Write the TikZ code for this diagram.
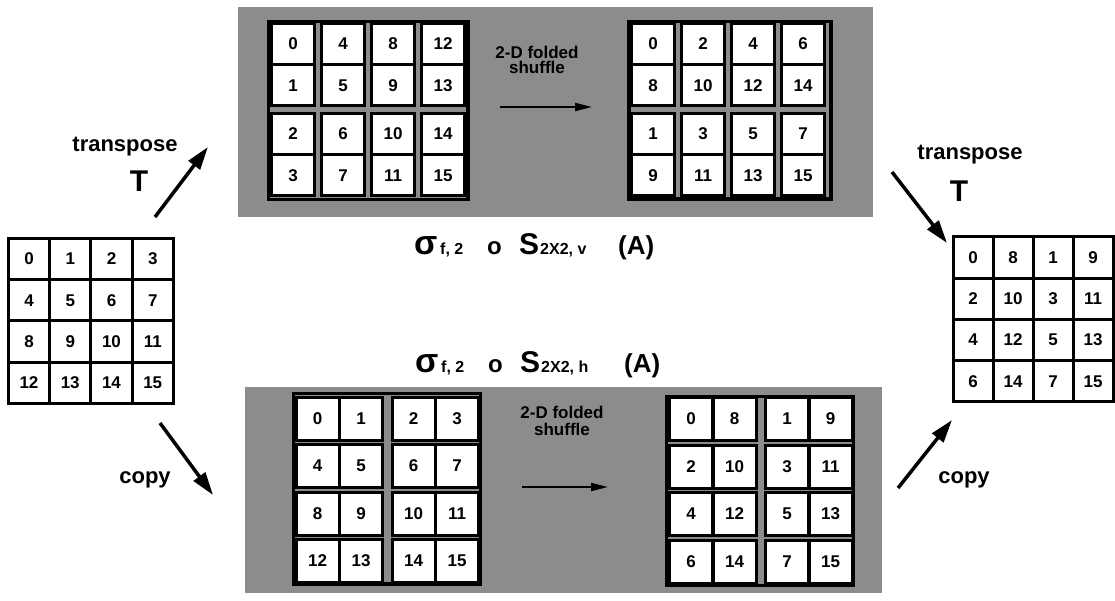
\documentclass[tikz,border=0pt]{standalone}
\usepackage{fontspec}
\setmainfont{Liberation Sans}
\usetikzlibrary{arrows.meta}
\newcommand{\cellfont}{\fontsize{17}{17}\selectfont\bfseries}
\newcommand{\lblfont}{\fontsize{22}{22}\selectfont\bfseries}
\newcommand{\bigTfont}{\fontsize{30}{30}\selectfont\bfseries}
\tikzset{
  panel/.style={fill=black!45},
  frame/.style={draw=black, line width=3.5pt, fill=black!45},
  cell/.style={draw=black, line width=3pt, fill=white, inner sep=0pt,
    minimum width=43pt, minimum height=41pt, font=\cellfont},
  plaincell/.style={cell, minimum width=41.25pt, minimum height=41.25pt},
  bigarrow/.style={line width=3.5pt, -{Triangle[length=23pt,width=14pt]}},
  shufarrow/.style={line width=2pt, -{Triangle[length=17pt,width=8pt]}},
  lbl/.style={font=\lblfont, anchor=base, inner sep=0pt},
  shuftext/.style={font=\fontsize{17}{15}\selectfont\bfseries, align=center, anchor=base, inner sep=0pt},
  formula/.style={anchor=base west, inner sep=0pt, font=\bfseries},
}
\begin{document}
\begin{tikzpicture}[x=1pt,y=-1pt]
  \useasboundingbox (0,0) rectangle (1115,601);
  % gray panels
  \fill[panel] (238,7) rectangle (873,217);
  \fill[panel] (245,387) rectangle (882,593);
  \draw[frame] (268.5,21.5) rectangle (468,199.5);
  \draw[frame] (629,21.5) rectangle (831,199);
  \draw[frame] (293.5,393.5) rectangle (480.5,584);
  \draw[frame] (666.5,396.5) rectangle (853.5,585.5);

  % input matrix A
  \foreach \v [count=\k from 0] in {0,...,15} {
    \pgfmathtruncatemacro\c{mod(\k,4)}
    \pgfmathtruncatemacro\r{\k/4}
    \node[plaincell] (in-\k) at ({29+41.25*\c},{259+41.25*\r}) {\v};
  }
  % upper path: vertical 2x2 split, then shuffle
  \foreach \v [count=\k from 0] in {0,4,8,12,1,5,9,13,2,6,10,14,3,7,11,15} {
    \pgfmathtruncatemacro\c{mod(\k,4)}
    \pgfmathtruncatemacro\r{\k/4}
    \node[cell] (tl-\k) at ({293+50*\c},{44+41.5*\r+7*(\r>1)}) {\v};
  }
  \foreach \v [count=\k from 0] in {0,2,4,6,8,10,12,14,1,3,5,7,9,11,13,15} {
    \pgfmathtruncatemacro\c{mod(\k,4)}
    \pgfmathtruncatemacro\r{\k/4}
    \node[cell] (tr-\k) at ({653+50*\c},{44+41.5*\r+7*(\r>1)}) {\v};
  }
  % lower path: horizontal 2x2 split, then shuffle
  \foreach \v [count=\k from 0] in {0,...,15} {
    \pgfmathtruncatemacro\c{mod(\k,4)}
    \pgfmathtruncatemacro\r{\k/4}
    \node[cell, minimum height=43pt] (bl-\k) at ({317.5+43.5*\c+9*(\c>1)},{418.5+47.5*\r}) {\v};
  }
  \foreach \v [count=\k from 0] in {0,8,1,9,2,10,3,11,4,12,5,13,6,14,7,15} {
    \pgfmathtruncatemacro\c{mod(\k,4)}
    \pgfmathtruncatemacro\r{\k/4}
    \node[cell, minimum height=43pt] (br-\k) at ({691+43.5*\c+9*(\c>1)},{419+47.5*\r}) {\v};
  }
  % result
  \foreach \v [count=\k from 0] in {0,8,1,9,2,10,3,11,4,12,5,13,6,14,7,15} {
    \pgfmathtruncatemacro\c{mod(\k,4)}
    \pgfmathtruncatemacro\r{\k/4}
    \node[plaincell, minimum width=40pt] (out-\k) at ({973+40*\c},{257.5+41.25*\r}) {\v};
  }

  % shuffle arrows inside the panels
  \node[shuftext] (shuf-v) at (537,74) {2-D folded\\shuffle};
  \coordinate (shv-tail) at (500,107);
  \coordinate (shv-tip) at (592,107);
  \draw[shufarrow] (shv-tail) -- (shv-tip);
  \node[shuftext] (shuf-h) at (562,435) {2-D folded\\[2pt]shuffle};
  \coordinate (shh-tail) at (522,487);
  \coordinate (shh-tip) at (608,487);
  \draw[shufarrow] (shh-tail) -- (shh-tip);

  % transpose / copy arrows
  \coordinate (up-tail) at (155,217);
  \coordinate (up-tip) at (208,147);
  \coordinate (down-tail) at (160,423);
  \coordinate (down-tip) at (213,495);
  \coordinate (ur-tail) at (892,172);
  \coordinate (ur-tip) at (947,243);
  \coordinate (lr-tail) at (898,488);
  \coordinate (lr-tip) at (952,420);
  \draw[bigarrow] (up-tail) -- (up-tip);
  \draw[bigarrow] (down-tail) -- (down-tip);
  \draw[bigarrow] (ur-tail) -- (ur-tip);
  \draw[bigarrow] (lr-tail) -- (lr-tip);
  \node[lbl] (trans-l) at (125,152) {transpose};
  \node[lbl, font=\bigTfont] (T-l) at (139,192) {T};
  \node[lbl] (copy-l) at (145,483) {copy};
  \node[lbl] (trans-r) at (970,160) {transpose};
  \node[lbl, font=\bigTfont] (T-r) at (959,202) {T};
  \node[lbl] (copy-r) at (964,483) {copy};

  % operator labels
  \node[formula, font=\fontsize{34}{34}\selectfont\bfseries] (sig-v) at (414,255) {σ};
  \node[formula, font=\fontsize{16}{16}\selectfont\bfseries] (fsub-v) at (440,255) {f, 2};
  \node[formula, font=\fontsize{24}{24}\selectfont\bfseries] (comp-v) at (487,255) {o};
  \node[formula, font=\fontsize{30}{30}\selectfont\bfseries] (S-v) at (519,255) {S};
  \node[formula, font=\fontsize{16}{16}\selectfont\bfseries] (ssub-v) at (540,255) {2X2, v};
  \node[formula, font=\fontsize{26}{26}\selectfont\bfseries] (A-v) at (618,255) {(A)};
  \node[formula, font=\fontsize{34}{34}\selectfont\bfseries] (sig-h) at (415,372) {σ};
  \node[formula, font=\fontsize{16}{16}\selectfont\bfseries] (fsub-h) at (441,372) {f, 2};
  \node[formula, font=\fontsize{24}{24}\selectfont\bfseries] (comp-h) at (488,372) {o};
  \node[formula, font=\fontsize{30}{30}\selectfont\bfseries] (S-h) at (520,372) {S};
  \node[formula, font=\fontsize{16}{16}\selectfont\bfseries] (ssub-h) at (541,372) {2X2, h};
  \node[formula, font=\fontsize{26}{26}\selectfont\bfseries] (A-h) at (624,372) {(A)};
\end{tikzpicture}
\end{document}
